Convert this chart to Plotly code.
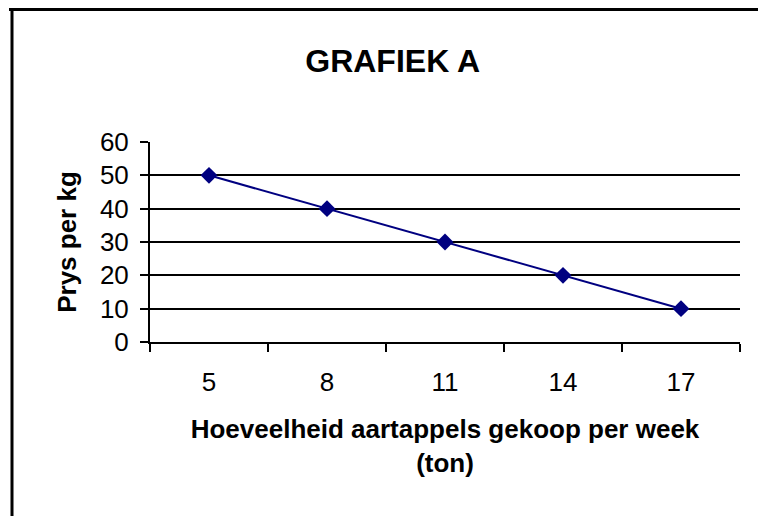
import plotly.graph_objects as go

# Weekly potato quantity (ton) and price per kg
hoeveelheid = ["5", "8", "11", "14", "17"]
prys = [50, 40, 30, 20, 10]
y_ticks = [0, 10, 20, 30, 40, 50, 60]

FONT = "Liberation Sans, Arial, sans-serif"

fig = go.Figure(
    go.Scatter(
        x=hoeveelheid,
        y=prys,
        mode="lines+markers",
        line=dict(color="#000080", width=2),
        marker=dict(symbol="diamond", size=13, color="#000080"),
        showlegend=False,
    )
)

fig.update_layout(
    width=758,
    height=516,
    margin=dict(l=150, r=18, t=142, b=174),
    paper_bgcolor="white",
    plot_bgcolor="white",
    font=dict(family=FONT, color="black"),
    title=dict(
        text="<b>GRAFIEK A</b>",
        x=0.518,
        xanchor="center",
        y=0.883,
        yanchor="middle",
        font=dict(size=32, family=FONT, color="black"),
    ),
)

fig.update_xaxes(
    type="category",
    range=[-0.5, 4.5],
    tickson="boundaries",
    ticks="outside",
    ticklen=8,
    tickwidth=2,
    tickcolor="black",
    showline=True,
    linecolor="black",
    linewidth=2,
    showgrid=False,
    tickfont=dict(size=26, family=FONT, color="black"),
    ticklabelstandoff=16,
    title=dict(
        text="<b>Hoeveelheid aartappels gekoop per week<br>(ton)</b>",
        font=dict(size=26, family=FONT, color="black"),
        standoff=24,
    ),
)

fig.update_yaxes(
    range=[0, 60],
    tickvals=y_ticks,
    ticks="outside",
    ticklen=8,
    tickwidth=2,
    tickcolor="black",
    showline=True,
    linecolor="black",
    linewidth=2,
    showgrid=True,
    gridcolor="black",
    gridwidth=2,
    zeroline=False,
    tickfont=dict(size=26, family=FONT, color="black"),
    ticklabelstandoff=6,
    title=dict(
        text="<b>Prys per kg</b>",
        font=dict(size=26, family=FONT, color="black"),
        standoff=16,
    ),
)

# Frame around the chart (top and left edges)
px_w, px_h = 590, 200
def xp(px):
    return (px - 150) / px_w
def yp(py):
    return (342 - py) / px_h

fig.add_shape(type="line", xref="paper", yref="paper",
              x0=xp(9), x1=xp(770), y0=yp(9.5), y1=yp(9.5),
              line=dict(color="black", width=3))
fig.add_shape(type="line", xref="paper", yref="paper",
              x0=xp(12), x1=xp(12), y0=yp(8), y1=yp(530),
              line=dict(color="black", width=3))

fig.write_html("out.html", config={"displayModeBar": False})
